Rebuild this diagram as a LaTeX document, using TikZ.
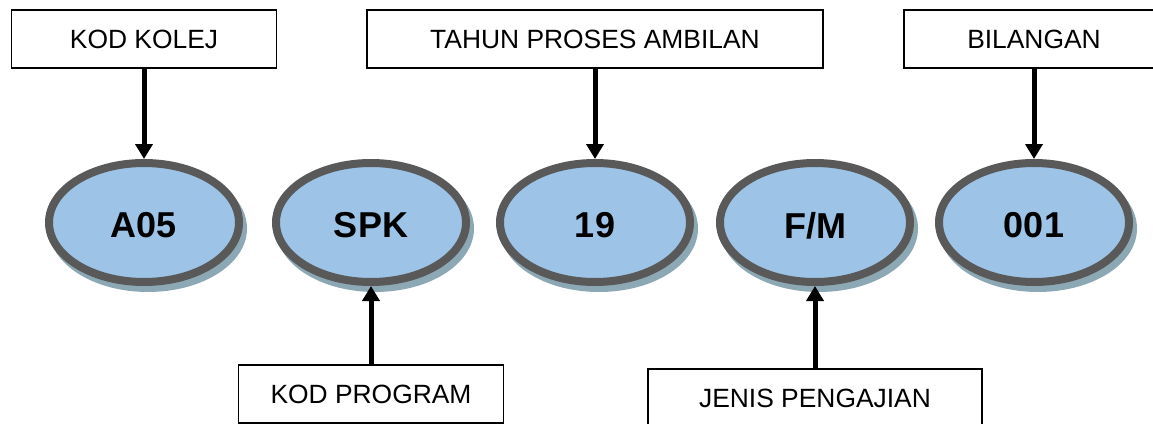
\documentclass[tikz,border=0pt]{standalone}
\usepackage{fontspec}
\setmainfont{Liberation Sans}
\usetikzlibrary{arrows.meta,shapes.geometric,shadows}
\definecolor{ovalfill}{HTML}{9DC3E6}
\definecolor{ovalrim}{HTML}{595959}
\definecolor{ovalshade}{HTML}{8CA8B5}
% lower the code text a little without changing the node's size
\newcommand{\ovaltext}[1]{\raisebox{-2.5pt}[\height][0pt]{#1}}
\tikzset{
  labelbox/.style={draw=black, line width=1.4pt, fill=white, rectangle,
    minimum height=58pt, inner sep=0pt, font=\fontsize{26.4}{30}\selectfont},
  codeoval/.style={ellipse, draw=ovalrim, line width=8pt, fill=ovalfill,
    minimum width=190pt, minimum height=119pt, inner sep=0pt,
    font=\fontsize{36}{40}\selectfont\bfseries,
    drop shadow={shadow xshift=4pt, shadow yshift=-6pt, fill=ovalshade,
      draw=ovalshade, line width=8pt, opacity=1}},
  pointer/.style={line width=5pt, -{Triangle[width=17pt,length=15pt]}}
}
\begin{document}
\begin{tikzpicture}[x=1pt,y=-1pt]
  \useasboundingbox (0,0) rectangle (1153,423);
  \clip (0,0) rectangle (1153,423);

  % code parts
  \node[codeoval] (a05) at (144,222.5) {\ovaltext{A05}};
  \node[codeoval] (spk) at (371,222.5) {\ovaltext{SPK}};
  \node[codeoval] (yr)  at (595,222.5) {\ovaltext{19}};
  \node[codeoval] (fm)  at (815,222.5) {\ovaltext{F/M}};
  \node[codeoval] (num) at (1034,222.5) {\ovaltext{001}};

  % captions above
  \node[labelbox, minimum width=265pt] (kolej) at (144,39) {KOD KOLEJ};
  \node[labelbox, minimum width=456pt] (tahun) at (595,39) {TAHUN PROSES AMBILAN};
  \node[labelbox, minimum width=260pt] (bil)   at (1034,39) {BILANGAN};

  % captions below
  \node[labelbox, minimum width=265pt] (prog)  at (371,394) {KOD PROGRAM};
  \node[labelbox, minimum width=334pt] (jenis) at (815,398) {JENIS PENGAJIAN};

  % pointers
  \draw[pointer] (kolej.south) -- (a05.north);
  \draw[pointer] (tahun.south) -- (yr.north);
  \draw[pointer] (bil.south) -- (num.north);
  \draw[pointer] (prog.north) -- (spk.south);
  \draw[pointer] (jenis.north) -- (fm.south);
\end{tikzpicture}
\end{document}
